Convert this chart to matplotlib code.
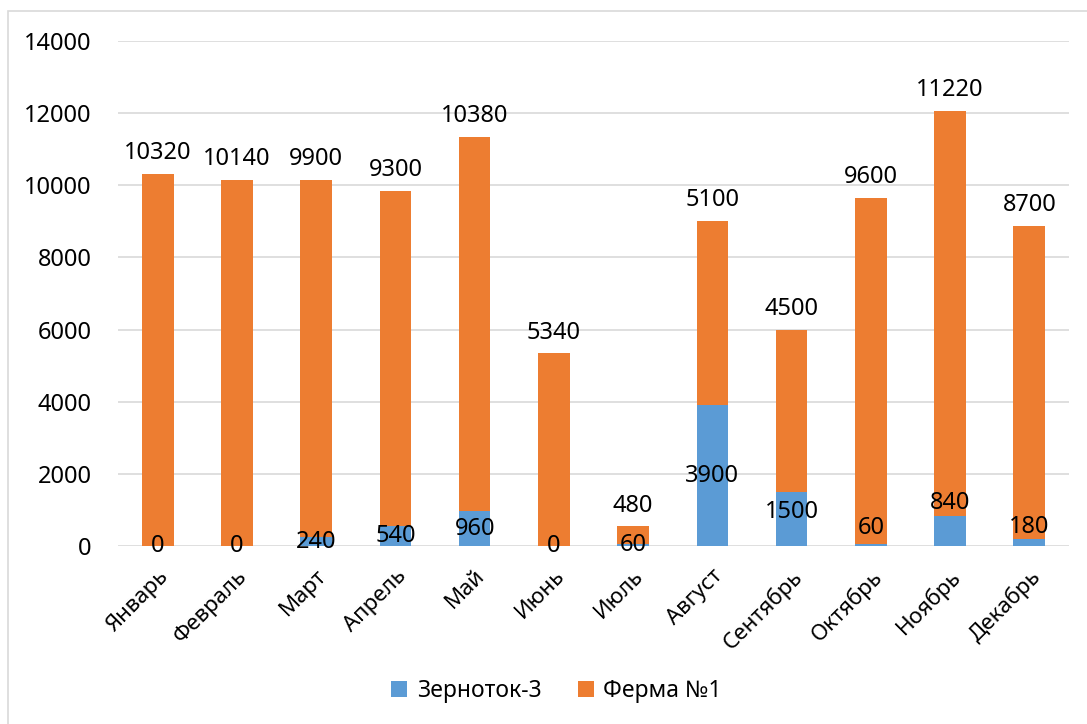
import matplotlib.pyplot as plt
import matplotlib.transforms as mtransforms
from matplotlib.patches import Rectangle
import numpy as np

plt.rcParams['font.family'] = ['Noto Sans', 'DejaVu Sans']

months = ['Январь', 'Февраль', 'Март', 'Апрель', 'Май', 'Июнь',
          'Июль', 'Август', 'Сентябрь', 'Октябрь', 'Ноябрь', 'Декабрь']
zernotok = [0, 0, 240, 540, 960, 0, 60, 3900, 1500, 60, 840, 180]
ferma = [10320, 10140, 9900, 9300, 10380, 5340, 480, 5100, 4500, 9600, 11220, 8700]
yticks = [0, 2000, 4000, 6000, 8000, 10000, 12000, 14000]

# small upward nudges (points) for a few of the lower labels
nudge = [0, 0, 0, 0, 0, 0, 0, 0, 5, 12, 20, 11]

blue = '#5B9BD5'
orange = '#ED7D31'
grid = '#D9D9D9'

fig = plt.figure(figsize=(10.87, 7.24), dpi=100)
ax = fig.add_axes([0.1086, 0.2459, 0.8748, 0.6975])

x = np.arange(len(months))
z = np.array(zernotok)
f = np.array(ferma)

ax.bar(x, z, width=0.4, color=blue, label='Зерноток-3', zorder=3)
ax.bar(x, f, width=0.4, bottom=z, color=orange, label='Ферма №1', zorder=3)

for i in range(len(months)):
    ax.annotate(str(zernotok[i]), (x[i], z[i] / 2), xytext=(0, nudge[i]),
                textcoords='offset points', ha='center', va='center',
                fontsize=17, zorder=4)
    ax.annotate(str(ferma[i]), (x[i], z[i] + f[i]), xytext=(0, 15),
                textcoords='offset points', ha='center', va='center',
                fontsize=17, zorder=4)

ax.set_xlim(-0.5, len(months) - 0.5)
ax.set_ylim(0, 14000)
ax.set_yticks(yticks)
ax.set_yticklabels([str(v) for v in yticks], fontsize=17)
ax.set_xticks(x)
ax.set_xticklabels(months, rotation=45, ha='right', va='top',
                   rotation_mode='anchor', fontsize=16)
shift = mtransforms.ScaledTranslation(4 / 72, 0, fig.dpi_scale_trans)
for lbl in ax.get_xticklabels():
    lbl.set_transform(lbl.get_transform() + shift)
ax.tick_params(axis='both', length=0)
ax.tick_params(axis='y', pad=19)
ax.tick_params(axis='x', pad=14)
ax.grid(axis='y', color=grid, linewidth=1.2, zorder=0)
for s in ax.spines.values():
    s.set_visible(False)

fig.legend(loc='center', bbox_to_anchor=(0.512, 0.045), ncol=2,
           frameon=False, fontsize=16.5, handlelength=0.7, handleheight=0.7,
           columnspacing=1.6, handletextpad=0.4)

fig.patches.append(Rectangle((7.5 / 1087, -0.1), 1.2, 1.1 - 10.5 / 724,
                             transform=fig.transFigure, fill=False,
                             edgecolor=grid, linewidth=1.2))

fig.savefig('out.png', dpi=100)
